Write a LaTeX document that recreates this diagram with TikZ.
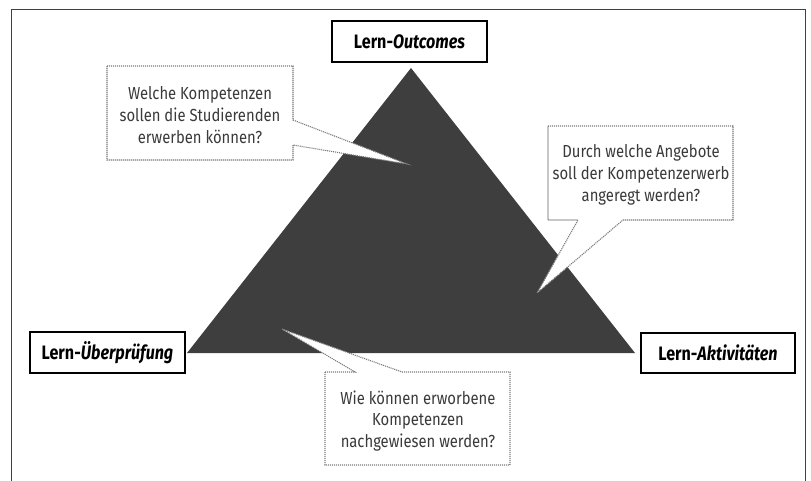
\documentclass[tikz,border=0pt]{standalone}
\usepackage{fontspec}
\setmainfont[FakeStretch=0.85]{Fira Sans}
\newfontfamily\lblfont[FakeStretch=0.83]{Fira Sans}
\definecolor{tri}{HTML}{3E3E3E}
\definecolor{qcol}{HTML}{3A3A3A}
\definecolor{dotcol}{HTML}{7A7A7A}
\begin{document}
\begin{tikzpicture}[x=1bp,y=-1bp,
  lbl/.style={draw=black,line width=1.3bp,fill=white,inner sep=0pt,
    minimum width=155bp,minimum height=41bp,font=\lblfont\bfseries\fontsize{19.5}{21}\selectfont},
  qtext/.style={align=center,text=qcol,inner sep=0pt,font=\fontsize{17.5}{22}\selectfont},
  bubble/.style={draw=dotcol,fill=white,line width=1.1bp,dash pattern=on 1.1bp off 0.9bp},
  frame/.style={draw=black!75,line width=1bp}]
\useasboundingbox (0,0) rectangle (811,481);
% frame
\draw[frame] (11,481) -- (11,10) -- (805,10) -- (805,481);
% triangle
\coordinate (apex) at (411,68);
\coordinate (bl) at (187,353);
\coordinate (br) at (635,353);
\fill[tri] (bl) -- (apex) -- (br) -- cycle;
% bubbles
\path[bubble] (107,66) -- (293,66) -- (293,120) -- (407,164) -- (293,145) -- (293,160) -- (107,160) -- cycle;
\path[bubble] (548,126) -- (733,126) -- (733,220) -- (623,220) -- (537,293) -- (578,220) -- (548,220) -- cycle;
\path[bubble] (325,372) -- (355,372) -- (282,329) -- (402,372) -- (510,372) -- (510,465) -- (325,465) -- cycle;
\node[qtext] (q1) at (200,115) {Welche Kompetenzen\\sollen die Studierenden\\erwerben können?};
\node[qtext] (q2) at (641,175) {Durch welche Angebote\\soll der Kompetenzerwerb\\angeregt werden?};
\node[qtext] (q3) at (418,421) {Wie können erworbene\\Kompetenzen\\nachgewiesen werden?};
% label boxes
\node[lbl] (out) at (409.5,41.5) {Lern-\textit{Outcomes}};
\node[lbl] (ueb) at (107.5,352.5) {Lern-\textit{Überprüfung}};
\node[lbl,minimum width=154bp,minimum height=40bp] (akt) at (718,353) {Lern-\textit{Aktivitäten}};
\end{tikzpicture}
\end{document}
